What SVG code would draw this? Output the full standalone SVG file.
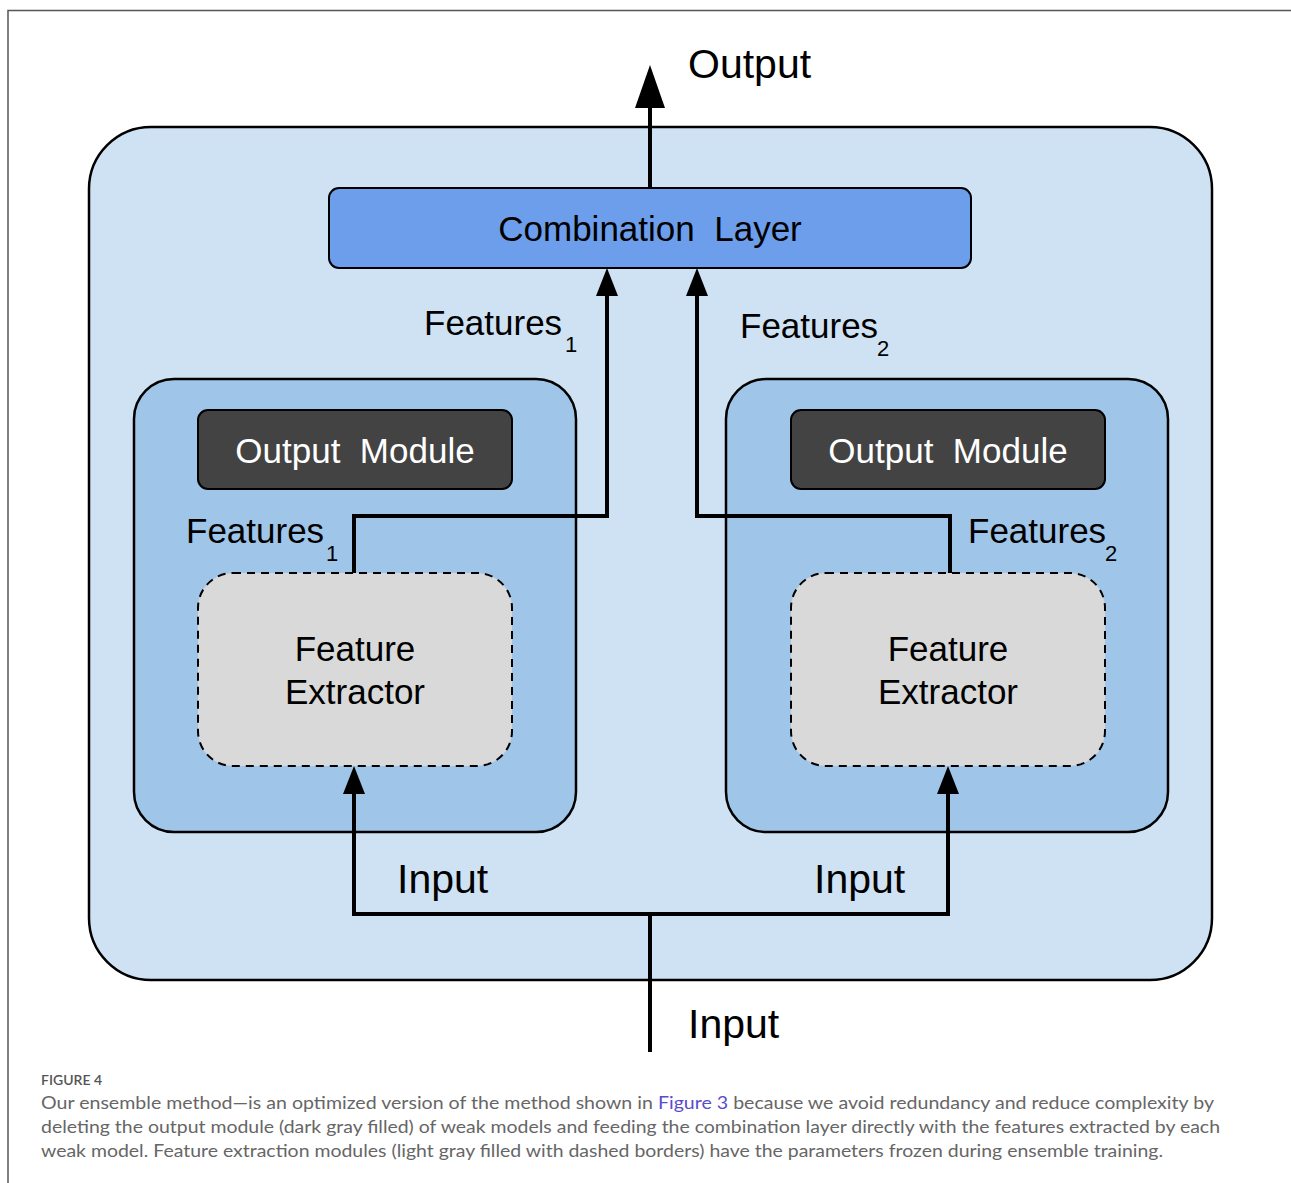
<svg xmlns="http://www.w3.org/2000/svg" width="1291" height="1183" viewBox="0 0 1291 1183">
  <style>
    .lbl { font-family: "Liberation Sans", Arial, sans-serif; fill: #000; }
    .big { font-size: 35px; }
    .io { font-size: 41px; }
    .sub { font-size: 22px; }
    .line { fill: none; stroke: #000; stroke-width: 4; stroke-linejoin: miter; }
    .cap { font-family: Lato, "Open Sans", sans-serif; fill: #666; font-size: 18px; }
  </style>
  <defs>
    <marker id="arrow" viewBox="0 0 28 22" refX="0" refY="11" markerWidth="28" markerHeight="22" markerUnits="userSpaceOnUse" orient="auto">
      <path d="M0,0 L28,11 L0,22 z" fill="#000"/>
    </marker>
    <marker id="arrowBig" viewBox="0 0 43 30" refX="0" refY="15" markerWidth="43" markerHeight="30" markerUnits="userSpaceOnUse" orient="auto">
      <path d="M0,0 L43,15 L0,30 z" fill="#000"/>
    </marker>
  </defs>

  <rect width="1291" height="1183" fill="#fff"/>
  <!-- page frame -->
  <path d="M8,1183 V10.5 H1291" fill="none" stroke="#555" stroke-width="1.5"/>

  <!-- ensemble container -->
  <g id="ensemble">
    <rect x="89" y="127" width="1123" height="853" rx="62" fill="#cfe2f3" stroke="#000" stroke-width="2.5"/>
  </g>

  <g id="combination-layer">
    <rect x="329" y="188" width="642" height="80" rx="10" fill="#6d9eeb" stroke="#000" stroke-width="2"/>
    <text class="lbl big" x="650" y="241" text-anchor="middle" xml:space="preserve">Combination  Layer</text>
  </g>

  <g id="weak-model-1">
    <rect x="134" y="379" width="442" height="453" rx="40" fill="#9fc5e8" stroke="#000" stroke-width="2.5"/>
  </g>
  <g id="weak-model-2">
    <rect x="726" y="379" width="442" height="453" rx="40" fill="#9fc5e8" stroke="#000" stroke-width="2.5"/>
  </g>

  <g id="output-module-1">
    <rect x="198" y="410" width="314" height="79" rx="10" fill="#434343" stroke="#000" stroke-width="2"/>
    <text class="lbl big" x="355" y="463" text-anchor="middle" fill="#fff" style="fill:#fff" xml:space="preserve">Output  Module</text>
  </g>
  <g id="output-module-2">
    <rect x="791" y="410" width="314" height="79" rx="10" fill="#434343" stroke="#000" stroke-width="2"/>
    <text class="lbl big" x="948" y="463" text-anchor="middle" style="fill:#fff" xml:space="preserve">Output  Module</text>
  </g>

  <g id="feature-extractor-1">
    <rect x="198" y="573" width="314" height="193" rx="35" fill="#d9d9d9" stroke="#000" stroke-width="2" stroke-dasharray="8,6"/>
    <text class="lbl big" x="355" y="661" text-anchor="middle">Feature</text>
    <text class="lbl big" x="355" y="704" text-anchor="middle">Extractor</text>
  </g>
  <g id="feature-extractor-2">
    <rect x="791" y="573" width="314" height="193" rx="35" fill="#d9d9d9" stroke="#000" stroke-width="2" stroke-dasharray="8,6"/>
    <text class="lbl big" x="948" y="661" text-anchor="middle">Feature</text>
    <text class="lbl big" x="948" y="704" text-anchor="middle">Extractor</text>
  </g>

  <!-- connectors -->
  <g id="connectors">
    <path class="line" d="M650,188 V108" stroke-width="5.5" marker-end="url(#arrowBig)"/>
    <path class="line" d="M354,573 V516 H607 V296" marker-end="url(#arrow)"/>
    <path class="line" d="M950,573 V516 H697 V296" marker-end="url(#arrow)"/>
    <path class="line" d="M650,1052 V914 H354 V794" marker-end="url(#arrow)"/>
    <path class="line" d="M650,914 H948 V794" marker-end="url(#arrow)"/>
  </g>

  <!-- connector labels -->
  <g id="labels">
    <text class="lbl io" x="688" y="78">Output</text>
    <text class="lbl big" x="424" y="335">Features</text>
    <text class="lbl sub" x="565" y="352">1</text>
    <text class="lbl big" x="740" y="338">Features</text>
    <text class="lbl sub" x="877" y="356">2</text>
    <text class="lbl big" x="186" y="543">Features</text>
    <text class="lbl sub" x="326" y="561">1</text>
    <text class="lbl big" x="968" y="543">Features</text>
    <text class="lbl sub" x="1105" y="561">2</text>
    <text class="lbl io" x="397" y="893">Input</text>
    <text class="lbl io" x="814" y="893">Input</text>
    <text class="lbl io" x="688" y="1038">Input</text>
  </g>

  <!-- caption -->
  <g id="caption">
    <text x="41" y="1085" style="font-family: Lato, 'Open Sans', sans-serif; font-size: 14px; fill: #555; font-weight: 600;">FIGURE 4</text>
    <text class="cap" x="41" y="1109" textLength="1173" lengthAdjust="spacingAndGlyphs">Our ensemble method—is an optimized version of the method shown in <tspan fill="#5b4ccf" style="fill:#5b4ccf">Figure 3</tspan> because we avoid redundancy and reduce complexity by</text>
    <text class="cap" x="41" y="1133" textLength="1179" lengthAdjust="spacingAndGlyphs">deleting the output module (dark gray filled) of weak models and feeding the combination layer directly with the features extracted by each</text>
    <text class="cap" x="41" y="1157" textLength="1122" lengthAdjust="spacingAndGlyphs">weak model. Feature extraction modules (light gray filled with dashed borders) have the parameters frozen during ensemble training.</text>
  </g>
</svg>
